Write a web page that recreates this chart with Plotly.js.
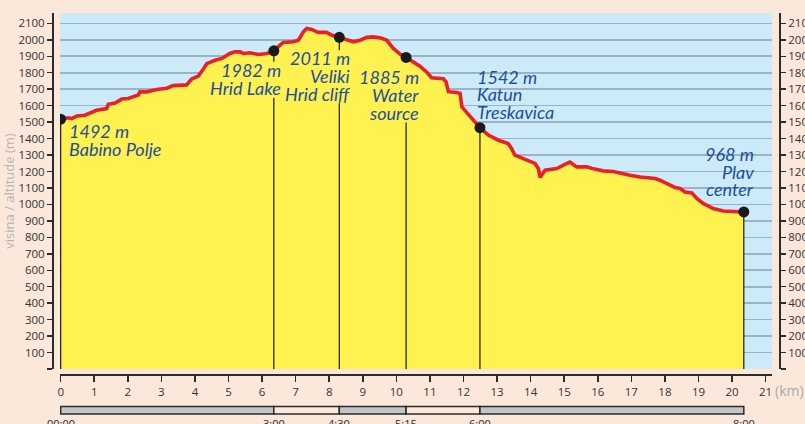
<!DOCTYPE html>
<html>
<head>
<meta charset="utf-8">
<script src="https://cdn.plot.ly/plotly-3.0.1.min.js"></script>
<style>
  html, body { margin: 0; padding: 0; background: #fce8da; }
  #chart { width: 805px; height: 424px; }
</style>
</head>
<body>
<div id="chart"></div>
<script>
// ---- Elevation profile (distance km, altitude m) ----
const profileKm = [0.00, 0.23, 0.33, 0.48, 0.72, 0.87, 1.07, 1.37, 1.42, 1.62, 1.82, 2.01, 2.16, 2.31, 2.36, 2.56, 2.86, 3.16, 3.35, 3.75, 3.90, 4.10, 4.25, 4.35, 4.60, 4.80, 5.04, 5.19, 5.34, 5.44, 5.64, 5.89, 6.14, 6.35, 6.53, 6.63, 6.93, 7.08, 7.23, 7.33, 7.48, 7.63, 7.67, 7.92, 8.07, 8.30, 8.52, 8.72, 8.92, 9.12, 9.31, 9.51, 9.71, 9.91, 10.11, 10.29, 10.50, 10.70, 10.90, 11.05, 11.40, 11.48, 11.55, 11.80, 11.90, 11.95, 12.04, 12.19, 12.49, 12.74, 13.04, 13.33, 13.43, 13.53, 13.88, 14.13, 14.23, 14.28, 14.43, 14.78, 15.02, 15.17, 15.37, 15.67, 15.87, 16.16, 16.46, 16.61, 16.96, 17.26, 17.71, 17.85, 18.05, 18.30, 18.45, 18.60, 18.80, 18.95, 19.14, 19.44, 19.74, 20.04, 20.35];
const profileM  = [1518, 1526, 1522, 1537, 1542, 1553, 1572, 1582, 1608, 1616, 1640, 1644, 1657, 1665, 1684, 1684, 1698, 1706, 1722, 1726, 1762, 1780, 1822, 1855, 1876, 1887, 1917, 1927, 1927, 1917, 1921, 1911, 1917, 1933, 1968, 1984, 1988, 1998, 2049, 2069, 2063, 2049, 2045, 2045, 2029, 2015, 1998, 1988, 1998, 2015, 2018, 2012, 1998, 1948, 1913, 1893, 1866, 1840, 1805, 1770, 1763, 1745, 1685, 1680, 1674, 1593, 1573, 1532, 1466, 1421, 1390, 1370, 1340, 1299, 1269, 1249, 1218, 1164, 1208, 1218, 1243, 1257, 1228, 1228, 1216, 1204, 1200, 1192, 1177, 1167, 1157, 1147, 1127, 1103, 1097, 1076, 1070, 1036, 1006, 975, 960, 957, 954];

// ---- Waypoints ----
const pointKm     = [0.00, 6.35, 8.30, 10.29, 12.49, 20.35];
const pointM      = [1518, 1933, 2015, 1893, 1466, 954];
const pointAlt    = ['1492 m', '1982 m', '2011 m', '1885 m', '1542 m', '968 m'];
const pointNames  = [['Babino Polje'], ['Hrid Lake'], ['Veliki', 'Hrid cliff'], ['Water', 'source'], ['Katun', 'Treskavica'], ['Plav', 'center']];
const pointTimes  = ['00:00', '3:00', '4:30', '5:15', '6:00', '8:00'];

// ---- Axis ticks ----
const yTickVals = [0, 100, 200, 300, 400, 500, 600, 700, 800, 900, 1000, 1100, 1200, 1300, 1400, 1500, 1600, 1700, 1800, 1900, 2000, 2100];
const yTickText = ['', '100', '200', '300', '400', '500', '600', '700', '800', '900', '1000', '1100', '1200', '1300', '1400', '1500', '1600', '1700', '1800', '1900', '2000', '2100'];

// ---- Styling / layout (pixels) ----
const W = 805, H = 424;
const M = {l: 53, r: 25, t: 13, b: 49};
const PW = W - M.l - M.r, PH = H - M.t - M.b;
const xDomain = [7 / PW, 1 - 8 / PW];
const yDomain = [6 / PH, 1];
const xRange = [-0.02, 21.19];
const yRange = [0, 2163];
const plotHpx = PH * (yDomain[1] - yDomain[0]);
const mPerPx = (yRange[1] - yRange[0]) / plotHpx;

// label placement: side, x shift px, y offset of first line px (down positive), gap in drop line px [from,to]
const labelStyle = [
  {side: 'left',  dx: 6.5, dy: 12,  gap: null},
  {side: 'right', dx: 9.5, dy: 19,  gap: [11, 47]},
  {side: 'right', dx: 12.5, dy: 21, gap: [13, 66]},
  {side: 'right', dx: 15,  dy: 20,  gap: [5, 65]},
  {side: 'left',  dx: -5,  dy: -51, gap: null},
  {side: 'right', dx: 12,  dy: -58, gap: null}
];
const lineStep = 17.7;

const YELLOW = '#fff150', RED = '#e8202a', BLUE_BG = '#cdeaf9', PEACH = '#fce8da';
const TXT_BLUE = '#1d4f9c', DARK = '#2b2b2b';

// vertical drop lines
const vx = [], vy = [];
pointKm.forEach((k, i) => {
  const g = labelStyle[i].gap;
  if (g) {
    vx.push(k, k, null, k, k, null);
    vy.push(pointM[i], pointM[i] - g[0] * mPerPx, null, pointM[i] - g[1] * mPerPx, 0, null);
  } else {
    vx.push(k, k, null);
    vy.push(pointM[i], 0, null);
  }
});

const traces = [
  {x: profileKm, y: profileM, type: 'scatter', mode: 'lines', fill: 'tozeroy',
   fillcolor: YELLOW, line: {width: 0, color: YELLOW}, hoverinfo: 'skip', showlegend: false},
  {x: vx, y: vy, type: 'scatter', mode: 'lines', line: {color: '#1a1a1a', width: 1.2},
   hoverinfo: 'skip', showlegend: false, connectgaps: false},
  {x: profileKm, y: profileM, type: 'scatter', mode: 'lines',
   line: {color: RED, width: 3.6}, hoverinfo: 'skip', showlegend: false},
  {x: pointKm, y: pointM, type: 'scatter', mode: 'markers',
   marker: {color: '#1a1a1a', size: 11}, hoverinfo: 'skip', showlegend: false},
  {x: [0], y: [0], yaxis: 'y2', type: 'scatter', mode: 'markers',
   marker: {opacity: 0}, hoverinfo: 'skip', showlegend: false}
];

const annotations = [];
const labFont = {family: 'Lato, "Open Sans", sans-serif', size: 18, color: TXT_BLUE, style: 'italic'};
pointKm.forEach((k, i) => {
  const st = labelStyle[i];
  const lines = [pointAlt[i]].concat(pointNames[i]);
  lines.forEach((t, j) => {
    annotations.push({
      x: k, y: pointM[i], xref: 'x', yref: 'y', text: t, showarrow: false,
      xanchor: st.side, yanchor: 'middle',
      xshift: st.dx, yshift: -(st.dy + j * lineStep), font: labFont
    });
  });
});

// time bar
const barTop = 406.5, barBot = 414;
const shapes = [];
for (let i = 0; i < pointKm.length - 1; i++) {
  shapes.push({
    type: 'rect', xref: 'x', yref: 'paper',
    x0: pointKm[i], x1: pointKm[i + 1],
    y0: (H - M.b - barBot) / PH, y1: (H - M.b - barTop) / PH,
    fillcolor: i % 2 === 0 ? '#c4c5c9' : PEACH,
    line: {color: DARK, width: 1.5}
  });
}
pointKm.forEach((k, i) => {
  annotations.push({
    x: k, xref: 'x', yref: 'paper', y: (H - M.b - 414) / PH, yanchor: 'top',
    text: pointTimes[i], showarrow: false,
    font: {family: '"Open Sans", sans-serif', size: 11, color: DARK}
  });
});
annotations.push({
  x: (789 - M.l) / PW, xref: 'paper', y: (H - M.b - 391) / PH, yref: 'paper',
  text: '(km)', showarrow: false, xanchor: 'center', yanchor: 'middle',
  font: {family: '"Open Sans", sans-serif', size: 14, color: '#a9a9a9'}
});

const tickFont = {family: '"Open Sans", sans-serif', size: 11.5, color: '#333'};
const yAxisBase = {
  range: yRange, domain: yDomain, tickmode: 'array', tickvals: yTickVals, ticktext: yTickText,
  showline: true, linecolor: DARK, linewidth: 2, ticks: 'outside', ticklen: 5, tickwidth: 1.5,
  tickcolor: DARK, tickfont: tickFont, zeroline: false, fixedrange: true, anchor: 'free'
};

const layout = {
  width: W, height: H, margin: M,
  paper_bgcolor: PEACH, plot_bgcolor: BLUE_BG,
  showlegend: false,
  xaxis: {
    range: xRange, domain: xDomain, anchor: 'free', position: 0,
    tickmode: 'linear', tick0: 0, dtick: 1,
    showline: true, linecolor: DARK, linewidth: 2,
    ticks: 'outside', ticklen: 6, tickwidth: 1.5, tickcolor: DARK,
    tickfont: tickFont, showgrid: false, zeroline: false, fixedrange: true
  },
  yaxis: Object.assign({}, yAxisBase, {
    position: 0, side: 'left', showgrid: true, gridcolor: '#9cb3c6', gridwidth: 1.6,
    title: {text: 'visina / altitude (m)', standoff: 4,
            font: {family: '"Open Sans", sans-serif', size: 13, color: '#b5b5b5'}}
  }),
  yaxis2: Object.assign({}, yAxisBase, {
    position: 1, side: 'right', overlaying: 'y', showgrid: false
  }),
  shapes: shapes,
  annotations: annotations
};

Plotly.newPlot('chart', traces, layout, {displayModeBar: false, staticPlot: true});
</script>
</body>
</html>
